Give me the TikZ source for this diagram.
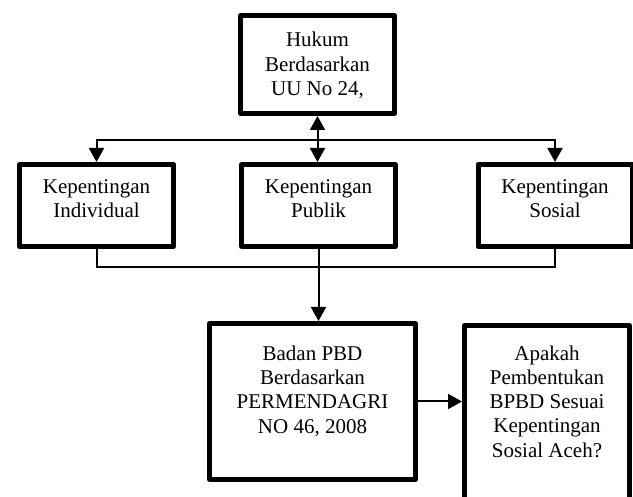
\documentclass[tikz,border=0pt]{standalone}
\usepackage{fontspec}
\setmainfont{Liberation Serif}
\usetikzlibrary{arrows.meta,positioning}

\tikzset{
    box/.style={draw, line width=5pt, line join=round, inner sep=0pt},
    txt/.style={align=center, inner sep=0pt, font=\fontsize{21}{24.3}\selectfont},
    link/.style={line width=2pt},
}

\begin{document}
\begin{tikzpicture}[x=1pt, y=-1pt, >={Triangle[width=15pt,length=14pt]}]
    \useasboundingbox (0,0) rectangle (633,497);
    \clip (0,0) rectangle (633,497);

    % boxes
    \node[box, minimum width=154pt, minimum height=98pt] (hukum) at (317.5,64.5) {};
    \node[box, minimum width=154pt, minimum height=82pt] (ind) at (96.5,205.5) {};
    \node[box, minimum width=154pt, minimum height=82pt] (mid) at (318.5,205.5) {};
    \node[box, minimum width=154pt, minimum height=82pt] (soc) at (555,205.5) {};
    \node[box, minimum width=206pt, minimum height=156pt] (bpbd) at (312.5,401.5) {};
    \node[box, minimum width=165pt, minimum height=200pt] (qst) at (547,425.5) {};

    % texts
    \node[txt] (hukumtxt) at ([yshift=-1pt]hukum.center) {Hukum\\Berdasarkan\\UU No 24,};
    \node[txt] (indtxt) at ([yshift=6.5pt]ind.center) {Kepentingan\\Individual};
    \node[txt] (midtxt) at ([yshift=6.5pt]mid.center) {Kepentingan\\Publik};
    \node[txt] (soctxt) at ([yshift=6.5pt]soc.center) {Kepentingan\\Sosial};
    \node[txt] (bpbdtxt) at ([yshift=10.5pt]bpbd.center) {Badan PBD\\Berdasarkan\\PERMENDAGRI\\NO 46, 2008};
    \node[txt] (qsttxt) at ([yshift=24pt]qst.center) {Apakah\\Pembentukan\\BPBD Sesuai\\Kepentingan\\Sosial Aceh?};

    % connectors
    \coordinate (split) at (317.5,140);
    \coordinate (join) at (318.5,267);
    \draw[link, <->] (hukum.south) -- (hukum.south |- mid.north);
    \draw[link, ->] (split) -| (ind.north);
    \draw[link, ->] (split) -| (soc.north);
    \draw[link] (ind.south) |- (join) -| (soc.south);
    \draw[link, ->] (mid.south) -- (mid.south |- bpbd.north);
    \draw[link, ->] (bpbd.east) -- (bpbd.east -| qst.west);
\end{tikzpicture}
\end{document}
